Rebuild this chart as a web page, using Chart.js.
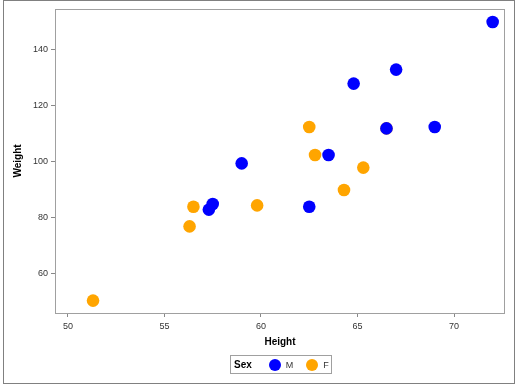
<!DOCTYPE html>
<html>
<head>
<meta charset="utf-8">
<script src="https://cdn.jsdelivr.net/npm/chart.js@4/dist/chart.umd.min.js"></script>
<style>
  html, body { margin: 0; padding: 0; background: #fff; }
  #wrap { position: relative; width: 517px; height: 387px; }
  #legend {
    position: absolute; left: 230px; top: 355px; width: 100px; height: 17px;
    border: 1px solid #a0a0a0; font-family: "Liberation Sans", Arial, sans-serif;
    font-size: 9px; color: #333; display: flex; align-items: center; box-sizing: content-box;
  }
  #legend b { font-size: 10px; color: #000; margin-left: 3px; margin-right: 17px; flex: none; }
  #legend .dot { flex: none; width: 12px; height: 12px; border-radius: 50%; display: inline-block; margin-right: 5px; }
  #legend .lab { flex: none; margin-right: 13px; }
</style>
</head>
<body>
<div id="wrap">
  <canvas id="c" width="517" height="387"></canvas>
  <div id="legend">
    <b>Sex</b>
    <span class="dot" style="background:#0000ff"></span><span class="lab">M</span>
    <span class="dot" style="background:#ffa500"></span><span class="lab">F</span>
  </div>
</div>
<script>
// sashelp.class, split by sex
const maleHeight = [69.0, 63.5, 57.3, 62.5, 59.0, 72.0, 64.8, 67.0, 57.5, 66.5];
const maleWeight = [112.5, 102.5, 83.0, 84.0, 99.5, 150.0, 128.0, 133.0, 85.0, 112.0];
const femaleHeight = [56.5, 65.3, 62.8, 59.8, 62.5, 51.3, 64.3, 56.3, 66.5];
const femaleWeight = [84.0, 98.0, 102.5, 84.5, 112.5, 50.5, 90.0, 77.0, 112.0];
const xTicks = [50, 55, 60, 65, 70];
const yTicks = [60, 80, 100, 120, 140];

const toPoints = (xs, ys) => xs.map((x, i) => ({ x, y: ys[i] }));

const frames = {
  id: 'frames',
  afterDraw(chart) {
    const { ctx, chartArea: a } = chart;
    ctx.save();
    ctx.lineWidth = 1;
    ctx.strokeStyle = '#a0a0a0';
    ctx.strokeRect(a.left + 0.5, a.top + 0.5, a.right - a.left - 1, a.bottom - a.top);
    ctx.strokeStyle = '#808080';
    ctx.strokeRect(3.5, 0.5, 511, 383);
    ctx.restore();
  }
};

const tickFont = { family: '"Liberation Sans", Arial, sans-serif', size: 9 };
const titleFont = { family: '"Liberation Sans", Arial, sans-serif', size: 10, weight: 'bold' };

new Chart(document.getElementById('c'), {
  type: 'scatter',
  data: {
    datasets: [
      { label: 'M', data: toPoints(maleHeight, maleWeight), backgroundColor: '#0000ff', borderWidth: 0, pointRadius: 6.3 },
      { label: 'F', data: toPoints(femaleHeight, femaleWeight), backgroundColor: '#ffa500', borderWidth: 0, pointRadius: 6.3 },
    ],
  },
  options: {
    responsive: false,
    animation: false,
    layout: { padding: { top: 9, right: 12, left: 0, bottom: 0 } },
    plugins: { legend: { display: false }, tooltip: { enabled: false } },
    scales: {
      x: {
        min: 49.33, max: 72.64,
        afterBuildTicks: s => { s.ticks = xTicks.map(v => ({ value: v })); },
        afterFit: s => { s.height = 74; },
        border: { display: false },
        grid: { drawOnChartArea: false, tickLength: 4, color: '#888' },
        ticks: { font: tickFont, color: '#333', padding: 4, maxRotation: 0 },
        title: { display: true, text: 'Height', font: titleFont, color: '#000', padding: { top: 0, bottom: 39 } },
      },
      y: {
        min: 46.07, max: 154.64,
        afterBuildTicks: s => { s.ticks = yTicks.map(v => ({ value: v })); },
        afterFit: s => { s.width = 55; },
        border: { display: false },
        grid: { drawOnChartArea: false, tickLength: 4, color: '#888' },
        ticks: { font: tickFont, color: '#333', padding: 3 },
        title: { display: true, text: 'Weight', font: titleFont, color: '#000', padding: { top: 12, bottom: 0 } },
      },
    },
  },
  plugins: [frames],
});
</script>
</body>
</html>
